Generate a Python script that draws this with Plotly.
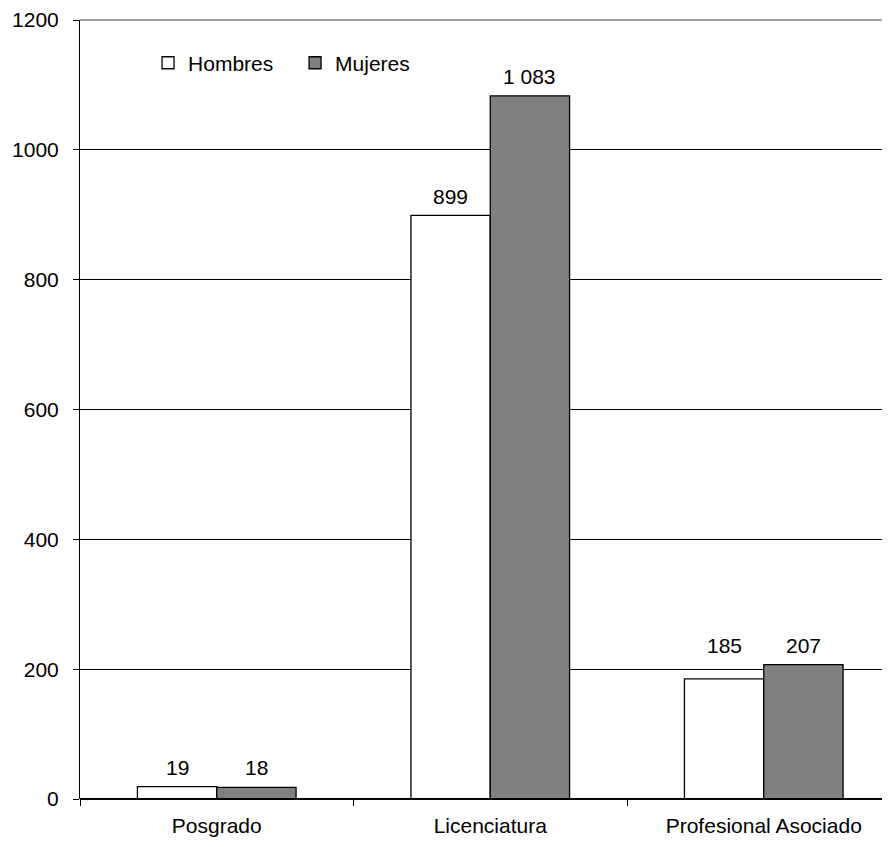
import plotly.graph_objects as go

categories = ["Posgrado", "Licenciatura", "Profesional Asociado"]
hombres = [19, 899, 185]
mujeres = [18, 1083, 207]
hombres_labels = ["19", "899", "185"]
mujeres_labels = ["18", "1 083", "207"]
y_ticks = [0, 200, 400, 600, 800, 1000, 1200]

font = dict(family="Liberation Sans, Arial, sans-serif", size=21, color="black")
bargap = 0.42
half = (1 - bargap) / 4  # offset of each bar centre from the category centre

fig = go.Figure()
fig.add_trace(go.Bar(
    name="Hombres", x=categories, y=hombres,
    marker=dict(color="white", line=dict(color="black", width=1.3)),
))
fig.add_trace(go.Bar(
    name="Mujeres", x=categories, y=mujeres,
    marker=dict(color="#808080", line=dict(color="black", width=1.3)),
))

# data labels (labels of near-equal neighbouring bars are aligned, as in the source)
annotations = []
for i in range(len(categories)):
    h, m = hombres[i], mujeres[i]
    close = abs(h - m) < 0.1 * y_ticks[-1]
    yh = max(h, m) if close else h
    ym = max(h, m) if close else m
    annotations.append(dict(x=i - half, y=yh, xref="x", yref="y", text=hombres_labels[i],
                            showarrow=False, yanchor="middle", yshift=19, font=font))
    annotations.append(dict(x=i + half, y=ym, xref="x", yref="y", text=mujeres_labels[i],
                            showarrow=False, yanchor="middle", yshift=19, font=font))

# page body has an 8px default margin, compensate
fig.update_layout(
    width=882, height=839,
    margin=dict(l=72, r=0, t=10, b=48),
    paper_bgcolor="white", plot_bgcolor="white",
    barmode="group", bargap=bargap, bargroupgap=0,
    font=font,
    showlegend=True,
    legend=dict(orientation="h", x=0.084, y=0.971, xanchor="left", yanchor="top",
                bgcolor="rgba(0,0,0,0)", font=font, itemwidth=30,
                entrywidth=102, entrywidthmode="pixels"),
    xaxis=dict(
        range=[-0.5, -0.5 + 810 / 273.5],
        showgrid=False, showline=False, zeroline=False,
        ticks="outside", tickson="boundaries", ticklen=6, tickcolor="black", tickwidth=1,
        tickfont=font, ticklabelstandoff=12,
    ),
    yaxis=dict(
        range=[0, 1200], tickvals=y_ticks,
        showgrid=True, gridcolor="black", gridwidth=1,
        showline=True, linecolor="black", linewidth=1,
        zeroline=False,
        ticks="outside", ticklen=6, tickcolor="black",
        tickfont=font, ticklabelstandoff=10, ticklabeloverflow="allow",
    ),
    annotations=annotations,
    shapes=[
        dict(type="line", xref="paper", yref="paper", x0=0, x1=1, y0=1, y1=1,
             line=dict(color="#808080", width=1.5), layer="above"),
        dict(type="line", xref="paper", yref="paper", x0=0, x1=1, y0=0, y1=0,
             line=dict(color="black", width=2), layer="above"),
    ],
)

fig.write_html("out.html")
